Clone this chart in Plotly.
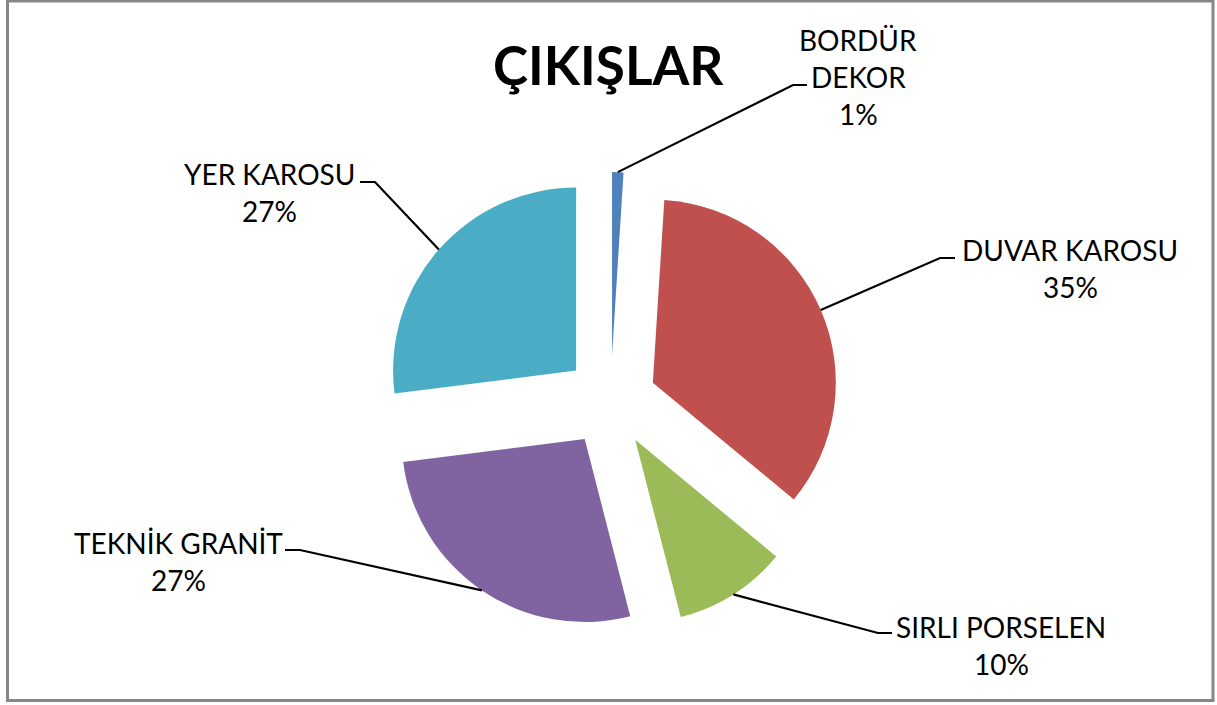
import math
import plotly.graph_objects as go

# ---- data ----
categories = ["BORDÜR DEKOR", "DUVAR KAROSU", "SIRLI PORSELEN", "TEKNİK GRANİT", "YER KAROSU"]
values = [1, 35, 10, 27, 27]
label_lines = [["BORDÜR", "DEKOR"], ["DUVAR KAROSU"], ["SIRLI PORSELEN"], ["TEKNİK GRANİT"], ["YER KAROSU"]]
colors = ["#4F81BD", "#C0504D", "#9BBB59", "#8064A2", "#4BACC6"]
title_text = "ÇIKIŞLAR"

# ---- layout constants (pixels) ----
W, H = 1217, 705
R = 183.0                  # slice radius
PULL = 46.0 / R            # explosion offset as fraction of radius
CX, CY = 610.6, 401.0      # pie centre
HALF = R * (1 + PULL)      # half domain size

# label placement: (text centre x, first line y, knee x, knee y, end x)
label_pos = [
    (858, 40, 793, 85, 807),
    (1070, 250, 940, 258, 955),
    (1001, 627, 878, 633, 892),
    (178, 543, 300, 550, 285),
    (269, 174, 375, 182, 360),
]
LINE_H = 37
FONT = "Lato"
LABEL_SIZE = 28


def px(x):
    return x / W


def py(y):
    return 1 - y / H


fig = go.Figure(go.Pie(
    labels=categories,
    values=values,
    sort=False,
    direction="clockwise",
    rotation=0,
    pull=[PULL] * len(values),
    marker=dict(colors=colors, line=dict(width=0)),
    textinfo="none",
    hoverinfo="label+percent",
    domain=dict(x=[px(CX - HALF), px(CX + HALF)], y=[py(CY + HALF), py(CY - HALF)]),
    showlegend=False,
))

total = sum(values)
cum = 0
shapes = []
annotations = []
for cat, v, lines, pos in zip(categories, values, label_lines, label_pos):
    mid = (cum + v / 2) / total * 2 * math.pi
    cum += v
    dx, dy = math.sin(mid), -math.cos(mid)
    ax = CX + HALF * dx
    ay = CY + HALF * dy
    tx, ty, kx, ky, ex = pos
    shapes.append(dict(
        type="path", xref="paper", yref="paper",
        path=f"M {px(ax)},{py(ay)} L {px(kx)},{py(ky)} L {px(ex)},{py(ky)}",
        line=dict(color="black", width=2.2),
    ))
    pct = f"{round(v / total * 100)}%"
    for i, t in enumerate(lines + [pct]):
        annotations.append(dict(
            x=px(tx), y=py(ty + i * LINE_H), xref="paper", yref="paper",
            text=t, showarrow=False, xanchor="center", yanchor="middle",
            font=dict(family=FONT, size=LABEL_SIZE, color="black"),
        ))

annotations.append(dict(
    x=px(608), y=py(64), xref="paper", yref="paper", text=f"<b>{title_text}</b>",
    showarrow=False, xanchor="center", yanchor="middle",
    font=dict(family=FONT, size=53, color="black"),
))

shapes.append(dict(
    type="rect", xref="paper", yref="paper",
    x0=px(7.5), x1=px(1213), y0=py(700.5), y1=py(1),
    line=dict(color="#878787", width=3), fillcolor="rgba(0,0,0,0)",
))

fig.update_layout(
    width=W, height=H,
    margin=dict(l=0, r=0, t=0, b=0),
    paper_bgcolor="white",
    plot_bgcolor="white",
    shapes=shapes,
    annotations=annotations,
)

fig.write_html(
    "out.html",
    config={"displayModeBar": False},
    post_script="document.body.style.margin='0';document.body.style.overflow='hidden';",
)
